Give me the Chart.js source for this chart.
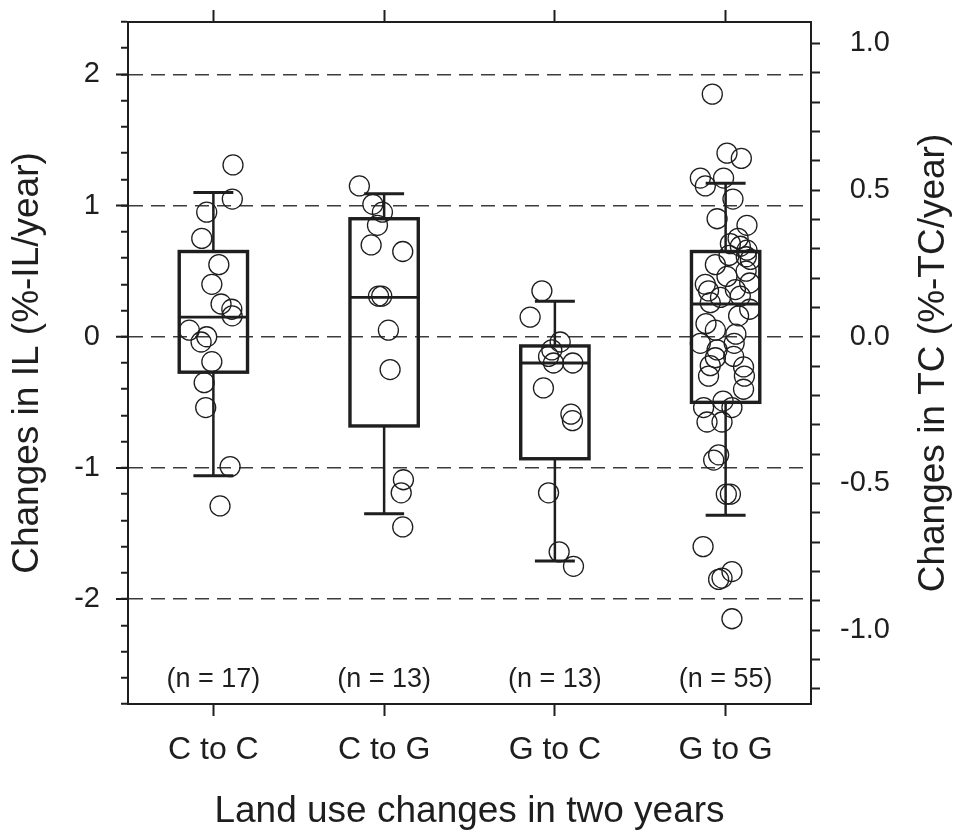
<!DOCTYPE html>
<html>
<head>
<meta charset="utf-8">
<script src="https://cdn.jsdelivr.net/npm/chart.js@4.4.0/dist/chart.umd.min.js"></script>
<style>
  html, body { margin: 0; padding: 0; background: #fff; }
  canvas { display: block; }
</style>
</head>
<body>
<canvas id="chart" width="958" height="832"></canvas>
<script>
// Categorias
const categories = ['C to C', 'C to G', 'G to C', 'G to G'];

// Valores individuais (%-IL/year) e deslocamento horizontal (jitter, em unidades de categoria)
const ccValues = [1.31, 1.05, 0.95, 0.75, 0.55, 0.40, 0.25, 0.21, 0.16, 0.05, 0.00, -0.04, -0.19, -0.35, -0.54, -0.99, -1.29];
const ccJitter = [0.115, 0.111, -0.039, -0.068, 0.032, -0.009, 0.045, 0.108, 0.110, -0.141, -0.039, -0.072, -0.009, -0.054, -0.045, 0.098, 0.039];

const cgValues = [1.15, 1.01, 0.95, 0.85, 0.70, 0.65, 0.31, 0.31, 0.05, -0.25, -1.09, -1.19, -1.45];
const cgJitter = [-0.145, -0.066, -0.010, -0.039, -0.076, 0.109, -0.033, -0.014, 0.025, 0.035, 0.113, 0.100, 0.109];

const gcValues = [0.35, 0.15, -0.04, -0.10, -0.15, -0.20, -0.20, -0.39, -0.59, -0.64, -1.19, -1.64, -1.75];
const gcJitter = [-0.076, -0.145, 0.031, -0.018, -0.037, -0.008, 0.105, -0.067, 0.094, 0.103, -0.037, 0.025, 0.109];

const ggValues = [1.85, 1.40, 1.36, 1.21, 1.15, 1.21, 1.05,
  0.90, 0.85, 0.75, 0.71, 0.69, 0.66, 0.61, 0.59, 0.55,
  0.46, 0.41, 0.40, 0.35, 0.36, 0.31, 0.26, 0.16, 0.21, 0.10, 0.05,
  -0.05, -0.10, -0.15, -0.22, -0.23, -0.16, -0.30, -0.40,
  -0.54, -0.49, -0.54, -0.65, -0.65, -0.90, -0.94,
  -1.20, -1.20, -1.60, -1.79, -1.84, -1.85, -2.15,
  0.62, 0.30, 0.02, -0.30, 0.50, -0.05];
const ggJitter = [-0.078, 0.008, 0.092, -0.148, -0.119, -0.012, 0.043,
  -0.050, 0.125, 0.073, 0.028, 0.086, 0.125, 0.121, 0.145, -0.060,
  0.008, 0.141, -0.119, -0.100, 0.057, 0.086, -0.090, 0.076, 0.141, -0.115, -0.060,
  -0.148, -0.050, 0.047, -0.090, 0.105, -0.060, 0.110, 0.105,
  -0.129, -0.015, 0.037, -0.109, -0.021, -0.041, -0.070,
  0.004, 0.028, -0.132, 0.037, -0.021, -0.041, 0.037,
  0.020, -0.030, 0.060, -0.100, 0.120, 0.050];

// Estatísticas das caixas
const boxQ1 = [-0.27, -0.68, -0.93, -0.50];
const boxMedian = [0.15, 0.30, -0.20, 0.25];
const boxQ3 = [0.65, 0.90, -0.07, 0.65];
const whiskerLow = [-1.06, -1.35, -1.71, -1.36];
const whiskerHigh = [1.10, 1.09, 0.27, 1.17];

// Eixos
const yMin = -2.8, yMax = 2.4;
const tcPerIl = 0.4472;   // razão entre eixo direito (TC) e esquerdo (IL)
const leftLabels = [-2, -1, 0, 1, 2];
const rightLabels = [-1.0, -0.5, 0.0, 0.5, 1.0];
const nLabelAt = -2.61;

const groupValues = [ccValues, cgValues, gcValues, ggValues];
const groupJitter = [ccJitter, cgJitter, gcJitter, ggJitter];

const FONT = '"Liberation Sans", Arial, Helvetica, sans-serif';
const INK = '#1e1e1e';
const boxHalf = 0.2;
const capHalf = 0.117;

const isLabel = (list, v) => list.some(l => Math.abs(l - v) < 1e-6);

const datasets = groupValues.map((vals, i) => ({
  label: categories[i],
  data: vals.map((v, j) => ({ x: i + 1 + groupJitter[i][j], y: v })),
  pointRadius: 10,
  pointBorderWidth: 1.3,
  pointBorderColor: INK,
  pointBackgroundColor: 'rgba(0,0,0,0)',
  showLine: false
}));

// Caixas, bigodes, rótulos n e título direito
const boxPlugin = {
  id: 'boxes',
  afterDatasetsDraw(chart) {
    const { ctx, scales: { x, y } } = chart;
    ctx.save();
    ctx.strokeStyle = INK;
    categories.forEach((cat, i) => {
      const cx = x.getPixelForValue(i + 1);
      const hw = x.getPixelForValue(i + 1 + boxHalf) - cx;
      const cw = x.getPixelForValue(i + 1 + capHalf) - cx;
      const top = y.getPixelForValue(boxQ3[i]);
      const bot = y.getPixelForValue(boxQ1[i]);
      const med = y.getPixelForValue(boxMedian[i]);
      const wl = y.getPixelForValue(whiskerLow[i]);
      const wh = y.getPixelForValue(whiskerHigh[i]);

      ctx.lineWidth = 2.5;
      ctx.beginPath();
      ctx.moveTo(cx, top); ctx.lineTo(cx, wh);
      ctx.moveTo(cx, bot); ctx.lineTo(cx, wl);
      ctx.stroke();
      ctx.lineWidth = 3;
      ctx.beginPath();
      ctx.moveTo(cx - cw, wh); ctx.lineTo(cx + cw, wh);
      ctx.moveTo(cx - cw, wl); ctx.lineTo(cx + cw, wl);
      ctx.stroke();
      ctx.lineWidth = 3.4;
      ctx.strokeRect(cx - hw, top, 2 * hw, bot - top);
      ctx.lineWidth = 2.8;
      ctx.beginPath();
      ctx.moveTo(cx - hw, med); ctx.lineTo(cx + hw, med);
      ctx.stroke();

      ctx.fillStyle = INK;
      ctx.font = '27px ' + FONT;
      ctx.textAlign = 'center';
      ctx.textBaseline = 'middle';
      ctx.fillText(`(n = ${groupValues[i].length})`, cx, y.getPixelForValue(nLabelAt));
    });
    ctx.restore();
  },
  afterDraw(chart) {
    const { ctx, chartArea, scales: { y } } = chart;
    ctx.save();
    // marcas maiores no eixo esquerdo
    ctx.strokeStyle = INK;
    ctx.lineWidth = 2;
    ctx.beginPath();
    leftLabels.forEach(v => {
      const py = y.getPixelForValue(v);
      ctx.moveTo(chartArea.left - 12, py);
      ctx.lineTo(chartArea.left, py);
    });
    ctx.stroke();
    // título do eixo direito (lido de baixo para cima)
    ctx.translate(chart.width - 24, (chartArea.top + chartArea.bottom) / 2);
    ctx.rotate(-Math.PI / 2);
    ctx.fillStyle = INK;
    ctx.font = '37px ' + FONT;
    ctx.textAlign = 'center';
    ctx.textBaseline = 'middle';
    ctx.fillText('Changes in TC (%-TC/year)', 0, 0);
    ctx.restore();
  }
};

const stepTicks = (lo, hi, step) => {
  const out = [];
  for (let v = Math.ceil(lo / step - 1e-9); v * step <= hi + 1e-9; v++) {
    out.push({ value: Math.round(v * step * 100) / 100 });
  }
  return out;
};

const noPad = s => { s.paddingTop = 0; s.paddingBottom = 0; s.paddingLeft = 0; s.paddingRight = 0; };

const chart = new Chart(document.getElementById('chart').getContext('2d'), {
  type: 'scatter',
  data: { datasets },
  options: {
    responsive: false,
    devicePixelRatio: 1,
    animation: false,
    events: [],
    layout: { padding: { left: 0, top: 0, bottom: 0, right: 68 } },
    plugins: { legend: { display: false }, tooltip: { enabled: false } },
    scales: {
      x: {
        type: 'linear',
        position: 'bottom',
        min: 0.5,
        max: 4.5,
        afterBuildTicks: s => { s.ticks = categories.map((c, i) => ({ value: i + 1 })); },
        afterFit: s => { s.height = 128; noPad(s); },
        ticks: {
          autoSkip: false,
          maxRotation: 0,
          padding: 15,
          color: INK,
          font: { family: FONT, size: 32 },
          callback: v => categories[Math.round(v) - 1]
        },
        grid: { drawOnChartArea: false, tickLength: 12, tickWidth: 2, tickColor: INK },
        border: { color: INK, width: 2 },
        title: {
          display: true,
          text: 'Land use changes in two years',
          color: INK,
          font: { family: FONT, size: 37, lineHeight: 1 },
          padding: { top: 0, bottom: 2 }
        }
      },
      x2: {
        type: 'linear',
        position: 'top',
        min: 0.5,
        max: 4.5,
        afterBuildTicks: s => { s.ticks = categories.map((c, i) => ({ value: i + 1 })); },
        afterFit: s => { s.height = 22; noPad(s); },
        ticks: { display: false, autoSkip: false },
        grid: { drawOnChartArea: false, tickLength: 12, tickWidth: 2, tickColor: INK },
        border: { color: INK, width: 2 }
      },
      y: {
        type: 'linear',
        position: 'left',
        min: yMin,
        max: yMax,
        afterBuildTicks: s => { s.ticks = stepTicks(yMin, yMax, 0.2); },
        afterFit: s => { s.width = 128; noPad(s); },
        ticks: {
          autoSkip: false,
          padding: 21,
          color: INK,
          font: { family: FONT, size: 29 },
          callback: v => isLabel(leftLabels, v) ? String(Math.round(v)) : ''
        },
        grid: {
          color: c => (c.tick && isLabel(leftLabels, c.tick.value)) ? '#3c3c3c' : 'rgba(0,0,0,0)',
          lineWidth: 1.5,
          tickLength: 7,
          tickWidth: 2,
          tickColor: INK
        },
        border: { color: INK, width: 2, dash: [14, 8] },
        title: {
          display: true,
          text: 'Changes in IL (%-IL/year)',
          color: INK,
          font: { family: FONT, size: 37, lineHeight: 1 },
          padding: { top: 9, bottom: 0 }
        }
      },
      y2: {
        type: 'linear',
        position: 'right',
        min: yMin * tcPerIl,
        max: yMax * tcPerIl,
        afterBuildTicks: s => { s.ticks = stepTicks(yMin * tcPerIl, yMax * tcPerIl, 0.1); },
        afterFit: s => { s.width = 79; noPad(s); },
        ticks: {
          autoSkip: false,
          padding: 22,
          crossAlign: 'far',
          color: INK,
          font: { family: FONT, size: 29 },
          callback: v => isLabel(rightLabels, v) ? v.toFixed(1) : ''
        },
        grid: { drawOnChartArea: false, tickLength: 9, tickWidth: 2, tickColor: INK },
        border: { color: INK, width: 2 }
      }
    }
  },
  plugins: [boxPlugin]
});
</script>
</body>
</html>
